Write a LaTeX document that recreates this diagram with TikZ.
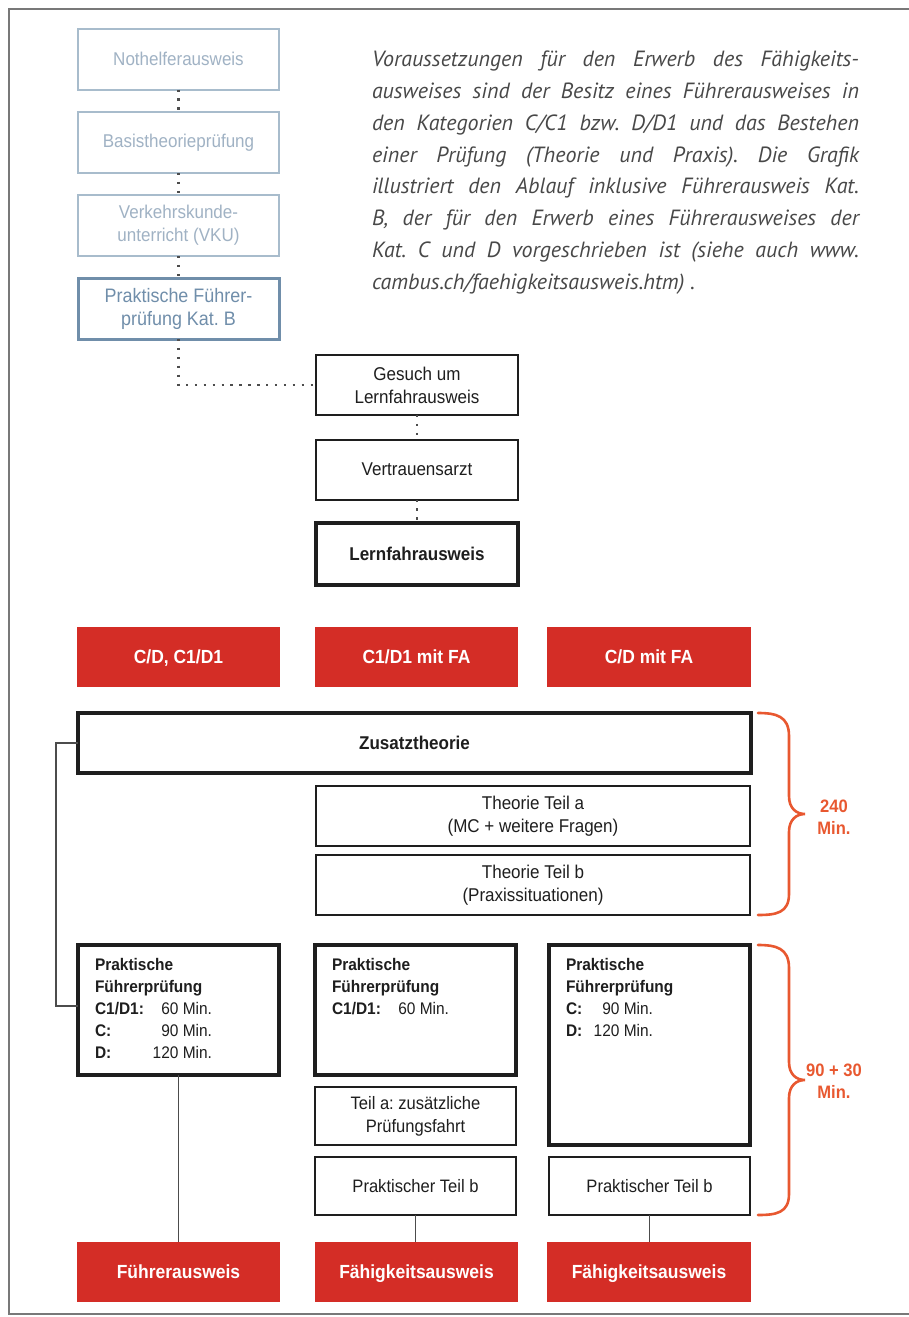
\documentclass[tikz,border=0pt]{standalone}
\usepackage{fontspec}
\setmainfont{Liberation Sans}
\newfontfamily\condfont[FakeStretch=0.92]{Liberation Sans}
\newfontfamily\parafont{PT Sans}
\usetikzlibrary{calc}
\newcommand\timerow[4]{\makebox[#1pt][l]{\bfseries #3}\makebox[#2pt][r]{#4}}
\definecolor{redbox}{RGB}{212,45,38}
\definecolor{bracecol}{RGB}{232,88,48}
\definecolor{paleline}{RGB}{168,188,204}
\definecolor{paletext}{RGB}{160,178,196}
\definecolor{bluegray}{RGB}{112,142,170}
\definecolor{paratext}{RGB}{72,72,72}
\definecolor{framegray}{RGB}{120,120,120}
\definecolor{inkdark}{RGB}{30,30,30}
\frenchspacing
\begin{document}
\begin{tikzpicture}[x=1pt,y=-1pt,
  every node/.style={inner sep=0pt, outer sep=0pt},
  palebox/.style={draw=paleline, line width=2pt, fill=white, minimum width=201pt, minimum height=61pt,
    align=center, text=paletext, font=\condfont\fontsize{18.5}{23}\selectfont},
  whitebox/.style={draw=inkdark, line width=2pt, fill=white, minimum width=202pt, minimum height=60pt,
    align=center, text=inkdark, font=\condfont\fontsize{18.5}{23}\selectfont},
  thickbox/.style={whitebox, line width=4pt},
  redlabel/.style={fill=redbox, minimum width=203pt, minimum height=60pt, text=white,
    text height=13.5pt, text depth=0pt,
    font=\condfont\bfseries\fontsize{19}{23}\selectfont},
  dots/.style={draw=black!70, line width=2.4pt, dash pattern=on 2.4pt off 6.5pt},
  link/.style={draw=black!70, line width=1.8pt},
  bracestyle/.style={draw=bracecol, line width=2.6pt, line cap=round},
  bracelabel/.style={text=bracecol, align=center, font=\condfont\bfseries\fontsize{18}{22}\selectfont}
]
\useasboundingbox (0,0) rectangle (909,1317);
\draw[framegray, line width=2pt] (909,9) -- (9,9) -- (9,1314) -- (909,1314);

% top left path (category B)
\node[palebox] (nothelfer) at (178.5,59) {Nothelferausweis};
\node[palebox] (basis) at (178.5,142.5) {Basistheorieprüfung};
\node[palebox] (vku) at (178.5,225.5) {Verkehrskunde-\\unterricht (VKU)};
\node[palebox, draw=bluegray, text=bluegray, line width=3pt, font=\condfont\fontsize{19.5}{23}\selectfont] (prakB) at (178.5,308.5) {Praktische Führer-\\prüfung Kat. B};

% paragraph
\node[anchor=north west, align=left, text=paratext, font=\parafont\itshape\fontsize{22}{31.8}\selectfont] (para) at (372,51) {%
\makebox[487pt][s]{Voraussetzungen für den Erwerb des Fähigkeits-}\\
\makebox[487pt][s]{ausweises sind der Besitz eines Führerausweises in}\\
\makebox[487pt][s]{den Kategorien C/C1 bzw. D/D1 und das Bestehen}\\
\makebox[487pt][s]{einer Prüfung (Theorie und Praxis). Die Grafik}\\
\makebox[487pt][s]{illustriert den Ablauf inklusive Führerausweis Kat.}\\
\makebox[487pt][s]{B, der für den Erwerb eines Führerausweises der}\\
\makebox[487pt][s]{Kat. C und D vorgeschrieben ist (siehe auch www.}\\
cambus.ch/faehigkeitsausweis.htm) .};

% learner permit
\node[whitebox] (gesuch) at (417,385) {Gesuch um\\Lernfahrausweis};
\node[whitebox] (arzt) at (417,469.5) {Vertrauensarzt};
\node[thickbox, minimum height=62pt, font=\condfont\bfseries\fontsize{18.5}{23}\selectfont] (lfa) at (417,554) {Lernfahrausweis};

\draw[dots] (nothelfer.south) -- (basis.north);
\draw[dots] (basis.south) -- (vku.north);
\draw[dots] (vku.south) -- (prakB.north);
\draw[dots] (prakB.south) |- (gesuch.west);
\draw[dots] (gesuch.south) -- (arzt.north);
\draw[dots] (arzt.south) -- (lfa.north);

% categories
\node[redlabel] (cat1) at (178.5,657) {C/D, C1/D1};
\node[redlabel] (cat2) at (416.5,657) {C1/D1 mit FA};
\node[redlabel, minimum width=204pt] (cat3) at (649,657) {C/D mit FA};

% theory
\node[thickbox, minimum width=673pt, font=\condfont\bfseries\fontsize{18.5}{23}\selectfont] (zusatz) at (414.5,743) {Zusatztheorie};
\node[whitebox, minimum width=434pt] (theoa) at (533,816) {Theorie Teil a\\(MC + weitere Fragen)};
\node[whitebox, minimum width=434pt] (theob) at (533,885) {Theorie Teil b\\(Praxissituationen)};

% practical
\node[thickbox, minimum width=201pt, minimum height=130pt] (pf1) at (178.5,1010) {\parbox[c][103pt][t]{167pt}{\raggedright\fontsize{16.8}{22}\selectfont
  \textbf{Praktische}\\\textbf{Führerprüfung}\\\timerow{61}{56}{C1/D1:}{60 Min.}\\\timerow{61}{56}{C:}{90 Min.}\\\timerow{61}{56}{D:}{120 Min.}}};
\node[thickbox, minimum width=201pt, minimum height=130pt] (pf2) at (415.5,1010) {\parbox[c][103pt][t]{167pt}{\raggedright\fontsize{16.8}{22}\selectfont
  \textbf{Praktische}\\\textbf{Führerprüfung}\\\timerow{61}{56}{C1/D1:}{60 Min.}}};
\node[thickbox, minimum width=201pt, minimum height=200pt] (pf3) at (649.5,1045) {\parbox[c][173pt][t]{167pt}{\raggedright\fontsize{16.8}{22}\selectfont
  \textbf{Praktische}\\\textbf{Führerprüfung}\\\timerow{20}{67}{C:}{90 Min.}\\\timerow{20}{67}{D:}{120 Min.}}};
\node[whitebox, minimum width=201pt, minimum height=58pt, font=\condfont\fontsize{18}{23}\selectfont] (teila) at (415.5,1116) {Teil a: zusätzliche\\Prüfungsfahrt};
\node[whitebox, minimum width=201pt, minimum height=58pt, font=\condfont\fontsize{18}{23}\selectfont] (pteilb2) at (415.5,1186) {Praktischer Teil b};
\node[whitebox, minimum width=201pt, minimum height=58pt, font=\condfont\fontsize{18}{23}\selectfont] (pteilb3) at (649.5,1186) {Praktischer Teil b};

% results
\node[redlabel] (fa) at (178.5,1272) {Führerausweis};
\node[redlabel] (fk1) at (416.5,1272) {Fähigkeitsausweis};
\node[redlabel, minimum width=204pt] (fk2) at (649,1272) {Fähigkeitsausweis};

% connectors
\coordinate (k1) at (56,743);
\coordinate (k2) at (56,1006);
\draw[link] (zusatz.west) -- (k1) -- (k2) -- (pf1.west |- k2);
\draw[link] (pf1.south) -- (pf1.south |- fa.north);
\draw[link] (pteilb2.south) -- (pteilb2.south |- fk1.north);
\draw[link] (pteilb3.south) -- (pteilb3.south |- fk2.north);

% braces
\draw[bracestyle] (758,713) .. controls (776,713) and (789,716) .. (789,736) -- (789,796)
  .. controls (789,808) and (796,814) .. (805,814)
  .. controls (796,814) and (789,820) .. (789,832) -- (789,894)
  .. controls (789,913) and (776,915) .. (758,915);
\node[bracelabel] (t240) at (834,817) {240\\Min.};
\draw[bracestyle] (758,945) .. controls (776,945) and (789,948) .. (789,968) -- (789,1062)
  .. controls (789,1074) and (796,1080) .. (805,1080)
  .. controls (796,1080) and (789,1086) .. (789,1098) -- (789,1194)
  .. controls (789,1213) and (776,1215) .. (758,1215);
\node[bracelabel] (t90) at (834,1081) {90 + 30\\Min.};
\end{tikzpicture}
\end{document}
